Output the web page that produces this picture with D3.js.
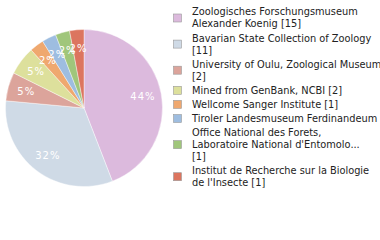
<!DOCTYPE html>
<html><head><meta charset="utf-8">
<script src="https://cdn.jsdelivr.net/npm/d3@7"></script>
<style>body{margin:0;background:#fff}svg{display:block}</style>
</head><body><svg id="c" width="380" height="240"></svg>
<script>
const categories = [
  ["Zoologisches Forschungsmuseum","Alexander Koenig [15]"],
  ["Bavarian State Collection of Zoology","[11]"],
  ["University of Oulu, Zoological Museum","[2]"],
  ["Mined from GenBank, NCBI [2]"],
  ["Wellcome Sanger Institute [1]"],
  ["Tiroler Landesmuseum Ferdinandeum"],
  ["Office National des Forets,","Laboratoire National d'Entomolo...","[1]"],
  ["Institut de Recherche sur la Biologie","de l'Insecte [1]"]
];
const values = [15, 11, 2, 2, 1, 1, 1, 1];
const colors = ["#dcbadd","#cfdae6","#dca49b","#dde09c","#efa86f","#9ebde0","#a0c67b","#dc755f"];

const svg = d3.select("#c");
const cx = 84, cy = 108, r = 78.5;
const total = d3.sum(values);
const pie = d3.pie().sort(null).value(d => d)(values);
const arc = d3.arc().innerRadius(0).outerRadius(r);
const labelArc = d3.arc().innerRadius(60).outerRadius(60);
const g = svg.append("g").attr("transform", `translate(${cx},${cy})`);
g.selectAll("path").data(pie).join("path")
  .attr("d", arc).attr("fill", (d,i) => colors[i])
  .attr("stroke", "#fff").attr("stroke-width", 0.4);
g.selectAll("text").data(pie).join("text")
  .attr("transform", d => `translate(${labelArc.centroid(d)})`)
  .attr("text-anchor", "middle").attr("dy", "0.35em")
  .attr("fill", "#fff").attr("font-family", "DejaVu Sans").attr("font-size", 10)
  .attr("letter-spacing", 1)
  .text(d => Math.floor(d.data / total * 100) + "%");

const lh = 12, gap = 2.1;
let y = 6;
const leg = svg.append("g").attr("font-family", "DejaVu Sans").attr("font-size", 9.8).attr("fill", "#222");
categories.forEach((lines, i) => {
  const h = lines.length * lh;
  leg.append("rect").attr("x", 173.5).attr("y", y + h/2 - 4).attr("width", 8).attr("height", 8)
    .attr("fill", colors[i]).attr("stroke", "#999").attr("stroke-width", 0.6);
  lines.forEach((t, j) => {
    leg.append("text").attr("x", 192).attr("y", y + j*lh + lh/2).attr("dy", "0.35em").text(t);
  });
  y += h + gap;
});
</script></body></html>
